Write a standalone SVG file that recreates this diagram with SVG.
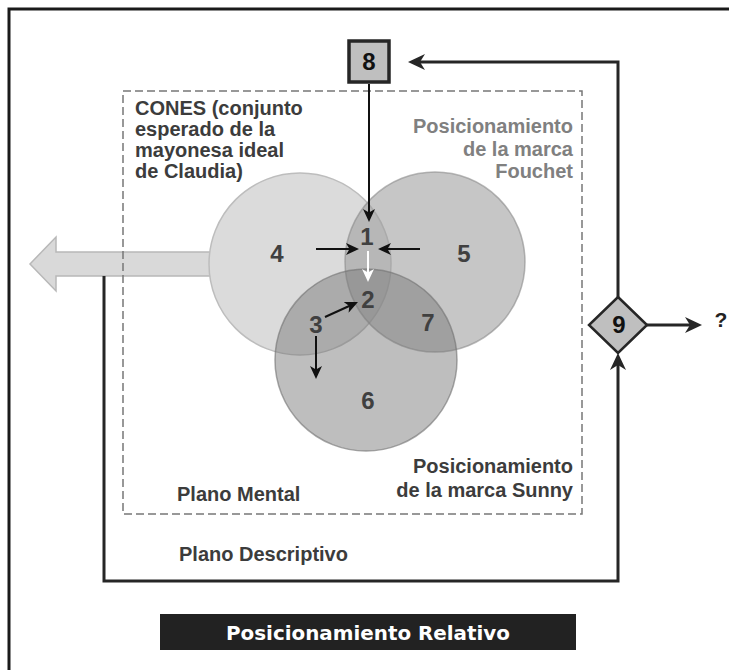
<svg xmlns="http://www.w3.org/2000/svg" width="729" height="670" viewBox="0 0 729 670">
<style>
.num{font-family:"Liberation Sans",Arial,sans-serif;font-weight:bold;font-size:24px;fill:#404040;text-anchor:middle}
.lbl{font-family:"Liberation Sans",Arial,sans-serif;font-weight:bold;font-size:20px;fill:#3c3c3c}
.lblg{font-family:"Liberation Sans",Arial,sans-serif;font-weight:bold;font-size:20px;fill:#808080}
.key{font-family:"Liberation Sans",Arial,sans-serif;font-weight:bold;font-size:24px;fill:#111;text-anchor:middle}
.thick{fill:none;stroke:#262626;stroke-width:3}
.thin{fill:none;stroke:#111;stroke-width:2}
</style>
<defs>
<marker id="ah" viewBox="0 0 13 12" refX="7" refY="6" markerWidth="13" markerHeight="12" markerUnits="userSpaceOnUse" orient="auto">
<path d="M0,0 L13,6 L0,12 L3.5,6 Z" fill="#111"/>
</marker>
<marker id="ahw" viewBox="0 0 13 12" refX="7" refY="6" markerWidth="13" markerHeight="12" markerUnits="userSpaceOnUse" orient="auto">
<path d="M0,0 L13,6 L0,12 L3.5,6 Z" fill="#fff"/>
</marker>
<marker id="ahb" viewBox="0 0 17 16" refX="9" refY="8" markerWidth="17" markerHeight="16" markerUnits="userSpaceOnUse" orient="auto">
<path d="M0,0 L17,8 L0,16 L5,8 Z" fill="#262626"/>
</marker>
</defs>
<rect width="729" height="670" fill="#fff"/>
<rect id="outer-frame" x="9" y="9" width="740" height="700" fill="none" stroke="#1a1a1a" stroke-width="3"/>

<g id="left-arrow">
<polygon points="30,264 56,237 56,252 214,252 214,276 56,276 56,291" fill="#d9d9d9" stroke="#b8b8b8" stroke-width="1.5"/>
</g>

<g id="plano-mental">
<rect x="123" y="91" width="459" height="423" fill="none" stroke="#777" stroke-width="1.5" stroke-dasharray="8,4"/>
<text class="lbl" x="177" y="501">Plano Mental</text>
</g>

<g id="circle-4">
<circle cx="300" cy="264" r="91" fill="#dbdbdb" stroke="#bdbdbd" stroke-width="1.5"/>
</g>
<g id="circle-5">
<circle cx="435" cy="262" r="90" fill="#9d9d9d" fill-opacity="0.58" stroke="#8a8a8a" stroke-opacity="0.6" stroke-width="1.5"/>
</g>
<g id="circle-6">
<circle cx="366" cy="360" r="91" fill="#757575" fill-opacity="0.47" stroke="#707070" stroke-opacity="0.6" stroke-width="1.5"/>
</g>

<g id="regions">
<text class="num" x="367" y="245">1</text>
<text class="num" x="368" y="308">2</text>
<text class="num" x="316" y="333">3</text>
<text class="num" x="277" y="262">4</text>
<text class="num" x="464" y="262">5</text>
<text class="num" x="368" y="409">6</text>
<text class="num" x="428" y="331">7</text>
</g>

<g id="labels">
<text class="lbl" x="135"><tspan x="135" y="115">CONES (conjunto</tspan><tspan x="135" y="136">esperado de la</tspan><tspan x="135" y="157">mayonesa ideal</tspan><tspan x="135" y="178">de Claudia)</tspan></text>
<text class="lblg" text-anchor="end"><tspan x="573" y="133">Posicionamiento</tspan><tspan x="573" y="155.5">de la marca</tspan><tspan x="573" y="178">Fouchet</tspan></text>
<text class="lbl" text-anchor="end"><tspan x="573" y="473">Posicionamiento</tspan><tspan x="573" y="497">de la marca Sunny</tspan></text>
<text class="lbl" x="179" y="561">Plano Descriptivo</text>
</g>

<g id="connectors">
<path class="thick" d="M104,276 V581 H618 V361" marker-end="url(#ahb)"/>
<path class="thick" d="M618,297 V62 H416" marker-end="url(#ahb)"/>
<path class="thick" d="M647,325 H694" marker-end="url(#ahb)"/>
<path class="thin" d="M369,84 V216" marker-end="url(#ah)"/>
<path class="thin" d="M316,249 H353" marker-end="url(#ah)"/>
<path class="thin" d="M420,249 H384" marker-end="url(#ah)"/>
<path d="M368,251 V276" fill="none" stroke="#fff" stroke-width="2" marker-end="url(#ahw)"/>
<path class="thin" d="M325,317 L352.5,304.5" marker-end="url(#ah)"/>
<path class="thin" d="M316,336 V373" marker-end="url(#ah)"/>
</g>

<g id="node-8">
<rect x="349" y="41" width="40" height="41" fill="#bfbfbf" stroke="#262626" stroke-width="3.5"/>
<text class="key" x="369" y="70">8</text>
</g>

<g id="node-9">
<polygon points="618,297 647,325 618,353 589,325" fill="#bfbfbf" stroke="#262626" stroke-width="2.5"/>
<text class="key" x="619" y="333">9</text>
</g>

<g id="question">
<text class="lbl" x="721" y="327" text-anchor="middle" style="fill:#222;font-size:21px">?</text>
</g>

<g id="title">
<rect x="160" y="614" width="416" height="36" fill="#222"/>
<text x="368" y="640" text-anchor="middle" font-family="'DejaVu Sans',Verdana,sans-serif" font-weight="bold" font-size="19" fill="#fff" textLength="284" lengthAdjust="spacingAndGlyphs">Posicionamiento Relativo</text>
</g>
</svg>
